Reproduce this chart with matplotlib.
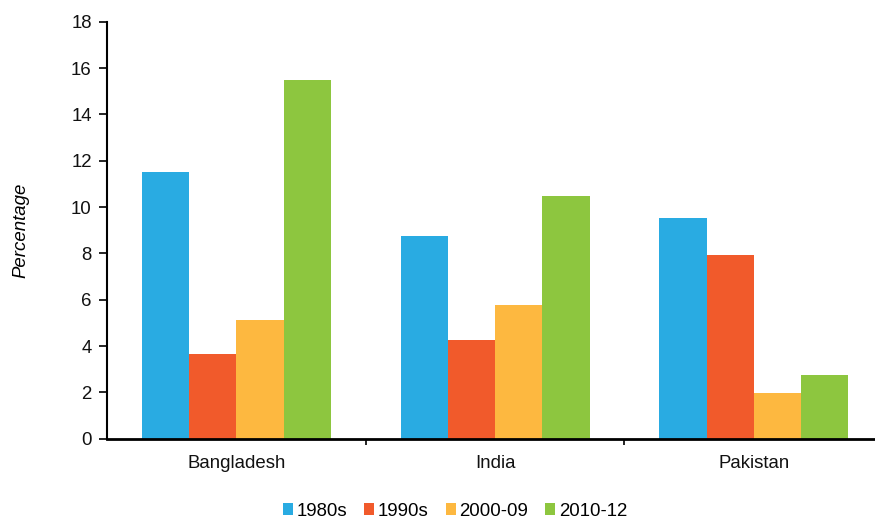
import numpy as np
import matplotlib.pyplot as plt

plt.rcParams['font.family'] = ['Liberation Sans', 'DejaVu Sans']

countries = ['Bangladesh', 'India', 'Pakistan']
periods = ['1980s', '1990s', '2000-09', '2010-12']
v1980s = [11.52, 8.75, 9.54]
v1990s = [3.64, 4.28, 7.93]
v2000s = [5.12, 5.77, 1.99]
v2010s = [15.5, 10.47, 2.76]
colors = ['#29ABE2', '#F15A2B', '#FDB840', '#8DC63F']

series = [v1980s, v1990s, v2000s, v2010s]

fig = plt.figure(figsize=(8.75, 5.21), dpi=100)
ax = fig.add_axes([0.1223, 0.158, 0.887, 0.8004])

x = np.arange(len(countries))
w = 0.1826
for i, vals in enumerate(series):
    ax.bar(x + (i - 1.5) * w, vals, w, color=colors[i], label=periods[i])

ax.set_xlim(-0.5, 2.5)
ax.set_ylim(0, 18)
ax.set_yticks(range(0, 19, 2))
ax.set_xticks(x)
ax.set_xticklabels(countries, fontsize=13.4, color='#111111')
ax.set_xticks([0.5, 1.5], minor=True)
ax.tick_params(axis='x', which='major', length=0, pad=12)
ax.tick_params(axis='x', which='minor', length=4, width=1.2, direction='out')
ax.tick_params(axis='y', length=6, width=1.2, pad=5, labelsize=13.4, labelcolor='#111111')

for s in ['top', 'right']:
    ax.spines[s].set_visible(False)
ax.spines['left'].set_linewidth(1.5)
ax.spines['bottom'].set_linewidth(2)

ax.set_ylabel('Percentage', fontsize=13.4, style='italic')
ax.yaxis.set_label_coords(-0.1, 0.5)

fig.legend(loc='center', bbox_to_anchor=(0.52, 0.019), ncol=4, frameon=False,
           fontsize=13.4, handlelength=0.55, handleheight=0.55, handletextpad=0.2,
           columnspacing=0.9, borderpad=0.1)

fig.savefig('out.png', dpi=100)
